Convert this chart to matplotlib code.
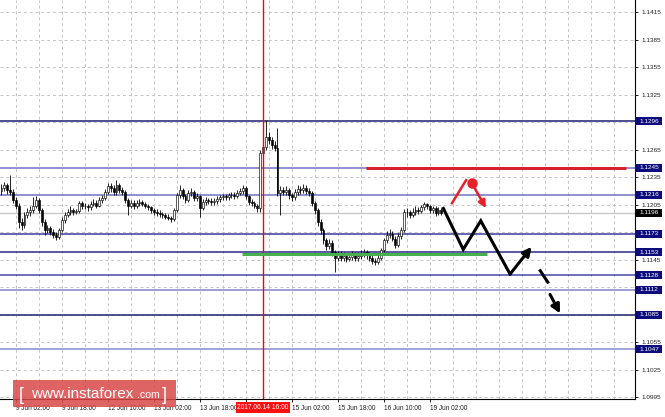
import numpy as np
import matplotlib
matplotlib.use('Agg')
import matplotlib.pyplot as plt
from matplotlib.patches import Rectangle
import matplotlib.transforms as mtransforms

plt.rcParams['font.family'] = ['Liberation Sans', 'DejaVu Sans']

# hourly EURUSD candles, bar 0 = 8 Jun 21:00 (weekend hours skipped)
first_open = 1.1220
closes = [
    1.1223, 1.1226, 1.1221, 1.1219, 1.1210, 1.1204, 1.1186, 1.1183, 1.1194, 1.1197,
    1.1199, 1.1204, 1.1210, 1.1199, 1.1186, 1.1177, 1.1179, 1.1175, 1.1172, 1.1170,
    1.1177, 1.1188, 1.1194, 1.1197, 1.1199, 1.1197, 1.1198, 1.1207, 1.1203, 1.1204,
    1.1202, 1.1206, 1.1207, 1.1204, 1.1210, 1.1212, 1.1219, 1.1225, 1.1223, 1.1219,
    1.1226, 1.1221, 1.1219, 1.1210, 1.1204, 1.1207, 1.1203, 1.1207, 1.1208, 1.1206,
    1.1204, 1.1202, 1.1199, 1.1197, 1.1196, 1.1195, 1.1194, 1.1192, 1.1190, 1.1189,
    1.1199, 1.1215, 1.1221, 1.1214, 1.1210, 1.1218, 1.1219, 1.1212, 1.1214, 1.1201,
    1.1208, 1.1210, 1.1209, 1.1208, 1.1209, 1.1211, 1.1213, 1.1214, 1.1213, 1.1215,
    1.1216, 1.1214, 1.1218, 1.1220, 1.1223, 1.1214, 1.1208, 1.1207, 1.1204, 1.1201,
    1.1261, 1.1268, 1.1279, 1.1275, 1.1270, 1.1267, 1.1218, 1.1221, 1.1219, 1.1221,
    1.1215, 1.1213, 1.1219, 1.1222, 1.1221, 1.1223, 1.1220, 1.1218, 1.1207, 1.1199,
    1.1186, 1.1177, 1.1166, 1.1160, 1.1163, 1.1153, 1.1147, 1.1150, 1.1147, 1.1149,
    1.1146, 1.1148, 1.1150, 1.1147, 1.1149, 1.1151, 1.1153, 1.1150, 1.1147, 1.1144,
    1.1142, 1.1147, 1.1155, 1.1166, 1.1172, 1.1173, 1.1168, 1.1161, 1.1171, 1.1177,
    1.1197, 1.1197, 1.1194, 1.1197, 1.1199, 1.1198, 1.1202, 1.1206, 1.1203, 1.1199,
    1.1201, 1.1196, 1.1199, 1.1196,
]
highs = [
    1.1227, 1.1230, 1.1229, 1.1237, 1.1222, 1.1213, 1.1207, 1.1190, 1.1197, 1.1201,
    1.1203, 1.1213, 1.1214, 1.1212, 1.1201, 1.1189, 1.1183, 1.1182, 1.1178, 1.1175,
    1.1180, 1.1191, 1.1197, 1.1200, 1.1203, 1.1201, 1.1200, 1.1209, 1.1209, 1.1207,
    1.1206, 1.1209, 1.1211, 1.1210, 1.1213, 1.1216, 1.1222, 1.1229, 1.1228, 1.1226,
    1.1232, 1.1229, 1.1224, 1.1221, 1.1212, 1.1210, 1.1210, 1.1210, 1.1211, 1.1210,
    1.1208, 1.1206, 1.1204, 1.1201, 1.1200, 1.1199, 1.1197, 1.1196, 1.1195, 1.1193,
    1.1201, 1.1218, 1.1226, 1.1223, 1.1217, 1.1221, 1.1223, 1.1221, 1.1218, 1.1216,
    1.1211, 1.1213, 1.1212, 1.1212, 1.1212, 1.1214, 1.1216, 1.1217, 1.1217, 1.1218,
    1.1219, 1.1219, 1.1221, 1.1223, 1.1226, 1.1225, 1.1216, 1.1211, 1.1209, 1.1206,
    1.1264, 1.1273, 1.1297, 1.1284, 1.1279, 1.1274, 1.1289, 1.1225, 1.1224, 1.1225,
    1.1223, 1.1218, 1.1222, 1.1226, 1.1225, 1.1227, 1.1226, 1.1223, 1.1220, 1.1209,
    1.1201, 1.1189, 1.1180, 1.1169, 1.1167, 1.1166, 1.1156, 1.1154, 1.1154, 1.1153,
    1.1152, 1.1152, 1.1154, 1.1153, 1.1153, 1.1155, 1.1157, 1.1156, 1.1153, 1.1150,
    1.1147, 1.1150, 1.1158, 1.1169, 1.1176, 1.1178, 1.1176, 1.1171, 1.1174, 1.1181,
    1.1200, 1.1201, 1.1199, 1.1201, 1.1203, 1.1202, 1.1205, 1.1208, 1.1207, 1.1205,
    1.1204, 1.1203, 1.1202, 1.1201,
]
lows = [
    1.1216, 1.1220, 1.1217, 1.1215, 1.1207, 1.1200, 1.1179, 1.1177, 1.1180, 1.1190,
    1.1193, 1.1196, 1.1201, 1.1196, 1.1182, 1.1172, 1.1174, 1.1172, 1.1169, 1.1166,
    1.1167, 1.1175, 1.1185, 1.1191, 1.1194, 1.1194, 1.1195, 1.1196, 1.1200, 1.1200,
    1.1198, 1.1199, 1.1203, 1.1201, 1.1202, 1.1207, 1.1210, 1.1217, 1.1219, 1.1215,
    1.1216, 1.1218, 1.1215, 1.1207, 1.1194, 1.1201, 1.1200, 1.1201, 1.1204, 1.1203,
    1.1201, 1.1199, 1.1196, 1.1194, 1.1193, 1.1192, 1.1190, 1.1189, 1.1188, 1.1186,
    1.1187, 1.1197, 1.1212, 1.1211, 1.1207, 1.1208, 1.1214, 1.1209, 1.1209, 1.1192,
    1.1199, 1.1205, 1.1206, 1.1205, 1.1205, 1.1206, 1.1208, 1.1210, 1.1210, 1.1210,
    1.1212, 1.1211, 1.1212, 1.1215, 1.1217, 1.1211, 1.1205, 1.1204, 1.1201, 1.1197,
    1.1197, 1.1258, 1.1265, 1.1271, 1.1266, 1.1263, 1.1214, 1.1194, 1.1215, 1.1216,
    1.1211, 1.1209, 1.1210, 1.1216, 1.1217, 1.1218, 1.1217, 1.1214, 1.1204, 1.1195,
    1.1182, 1.1173, 1.1162, 1.1156, 1.1157, 1.1149, 1.1131, 1.1143, 1.1143, 1.1144,
    1.1142, 1.1143, 1.1145, 1.1144, 1.1144, 1.1146, 1.1148, 1.1146, 1.1143, 1.1140,
    1.1139, 1.1140, 1.1145, 1.1153, 1.1163, 1.1169, 1.1165, 1.1158, 1.1159, 1.1168,
    1.1175, 1.1192, 1.1190, 1.1191, 1.1194, 1.1195, 1.1196, 1.1199, 1.1200, 1.1196,
    1.1196, 1.1193, 1.1194, 1.1194,
]

# support / resistance levels drawn on the chart
levels = [1.1296, 1.1245, 1.1216, 1.1173, 1.1153, 1.1128, 1.1112, 1.1085, 1.1047]
level_colors = ['#1c1c74', '#7272c4', '#7272c4', '#3a3aa0', '#2a2a8c',
                '#4848aa', '#8484c8', '#20206e', '#8a8aca']
bid = 1.1196

price_ticks = [1.0995, 1.1025, 1.1055, 1.1085, 1.1115, 1.1145, 1.1175, 1.1205,
               1.1235, 1.1265, 1.1295, 1.1325, 1.1355, 1.1385, 1.1415]
hidden_ticks = [1.1085, 1.1115, 1.1175, 1.1295]

time_ticks = [-11, 5, 21, 37, 53, 69, 85, 101, 117, 133, 149]
time_labels = ['8 Jun 10:00', '9 Jun 02:00', '9 Jun 18:00', '12 Jun 10:00',
               '13 Jun 02:00', '13 Jun 18:00', '', '15 Jun 02:00',
               '15 Jun 18:00', '16 Jun 10:00', '19 Jun 02:00']
cursor_bar = 91
cursor_label = '2017.06.14 16:00'

# drawn forecast marks (bar index, price)
red_line = [(126.8, 1.1245), (217.2, 1.1245)]
green_line = [(83.7, 1.11515), (168.9, 1.11515)]
red_stroke = [(156.7, 1.12066), (161.6, 1.12317)]
red_dot = (163.6, 1.12284)
red_arrow_tip = (168.5, 1.12012)
zigzag = [(153.7, 1.12008), (160.6, 1.11561), (166.7, 1.11873), (176.9, 1.11292)]
zigzag_tip = (184.4, 1.11589)
dash_seg = [(187.1, 1.11343), (190.3, 1.11190)]
dash_arrow = [(190.8, 1.11070), (194.3, 1.10863)]

W, H = 665, 417
fig = plt.figure(figsize=(W / 100, H / 100), dpi=100)
ax = fig.add_axes([0, 1 - 399 / H, 635 / W, 399 / H])

# grid
ax.set_xticks(time_ticks)
ax.set_xticklabels(time_labels, ha='left', fontsize=4.7, color='#202020')
ax.set_xticks(np.arange(-3, 221, 8), minor=True)
ax.grid(True, which='both', axis='x', color='#c4c4c4', lw=0.7, ls=(0, (3, 3)))
ax.yaxis.tick_right()
ax.set_yticks(price_ticks)
ax.set_yticklabels(['' if p in hidden_ticks else f'{p:.4f}' for p in price_ticks],
                   fontsize=4.6, color='#202020')
ax.grid(True, which='major', axis='y', color='#c4c4c4', lw=0.7, ls=(0, (3, 3)))
ax.tick_params(axis='x', which='major', length=2.5, width=0.6, pad=2)
ax.tick_params(axis='x', which='minor', length=0)
ax.tick_params(axis='y', length=2.5, width=0.6, pad=2)
for s in ['top', 'left']:
    ax.spines[s].set_visible(False)
for s in ['right', 'bottom']:
    ax.spines[s].set_linewidth(0.8)
ax.set_axisbelow(True)
ax.set_xlim(-0.52, 220.35)
ax.set_ylim(1.0993, 1.14281)

# levels
for lv, col in zip(levels, level_colors):
    ax.axhline(lv, color=col, lw=1.1, zorder=2)
ax.axhline(bid, color='#c8c8c8', lw=1.0, zorder=2)

# cursor line, drawn over the candles
ax.axvline(cursor_bar + 0.05, color='#ff0000', lw=1.0, zorder=5)

# candles
x = np.arange(len(closes))
opens = [first_open] + closes[:-1]
ax.vlines(x, lows, highs, color='black', lw=0.6, zorder=3)
bottoms = [min(o, c) for o, c in zip(opens, closes)]
heights = [max(abs(c - o), 0.00004) for o, c in zip(opens, closes)]
faces = ['white' if c >= o else 'black' for o, c in zip(opens, closes)]
ax.bar(x, heights, bottom=bottoms, width=0.62, color=faces,
       edgecolor='black', lw=0.45, zorder=4)

# drawn marks
ax.plot(*zip(*red_line), color='#d8202e', lw=2.2, solid_capstyle='butt', zorder=5)
ax.plot(*zip(*green_line), color='#48b04c', lw=2.2, solid_capstyle='butt', zorder=5)
ax.plot(*zip(*red_stroke), color='#e8202a', lw=1.8, zorder=6)
ax.plot(*red_dot, 'o', color='#e8202a', ms=6.5, zorder=6)
ax.annotate('', xy=red_arrow_tip, xytext=red_dot,
            arrowprops=dict(arrowstyle='-|>', color='#e8202a', lw=1.8,
                            mutation_scale=11, shrinkA=0, shrinkB=0), zorder=6)
ax.plot(*zip(*zigzag), color='black', lw=2.2, solid_joinstyle='miter', zorder=6)
ax.annotate('', xy=zigzag_tip, xytext=zigzag[-1],
            arrowprops=dict(arrowstyle='-|>', color='black', lw=2.2,
                            mutation_scale=13, shrinkA=0, shrinkB=0), zorder=6)
ax.plot(*zip(*dash_seg), color='black', lw=2.2, solid_capstyle='butt', zorder=6)
ax.annotate('', xy=dash_arrow[1], xytext=dash_arrow[0],
            arrowprops=dict(arrowstyle='-|>', color='black', lw=2.2,
                            mutation_scale=13, shrinkA=0, shrinkB=0), zorder=6)

# price boxes on the right scale
trans = mtransforms.blended_transform_factory(ax.transAxes, ax.transData)
box_w = 27 / 635
box_h = 8 * (1.14281 - 1.0993) / 399
for lv in levels + [bid]:
    fc = 'black' if lv == bid else '#0c0c7c'
    ax.add_patch(Rectangle((1.0, lv - box_h / 2), box_w, box_h, transform=trans,
                           fc=fc, ec='none', clip_on=False, zorder=10))
    ax.text(1.0 + 4 / 635, lv, f'{lv:.4f}', transform=trans, color='white',
            fontsize=4.6, va='center', ha='left', clip_on=False, zorder=11)

# cursor time label
fig.text((cursor_bar * 2.875 + 1.5) / W, 1 - 407.5 / H, cursor_label,
         color='white', fontsize=4.8, ha='center', va='center',
         bbox=dict(boxstyle='square,pad=0.25', fc='#ff1010', ec='none'))

# watermark
fig.patches.append(Rectangle((13 / W, 1 - 407 / H), 163 / W, 27 / H,
                             transform=fig.transFigure, fc='#d94848', ec='none',
                             alpha=0.85, zorder=20))
fig.text(19 / W, 1 - 395 / H, '[', color='white', fontsize=13, ha='left',
         va='center', zorder=21)
fig.text(31 / W, 1 - 394 / H, 'www.instaforex', color='white', fontsize=11,
         ha='left', va='center', zorder=21)
fig.text(137 / W, 1 - 395.5 / H, '.com', color='white', fontsize=7.6,
         ha='left', va='center', zorder=21)
fig.text(162 / W, 1 - 395 / H, ']', color='white', fontsize=13, ha='left',
         va='center', zorder=21)

fig.savefig('out.png', dpi=100)
